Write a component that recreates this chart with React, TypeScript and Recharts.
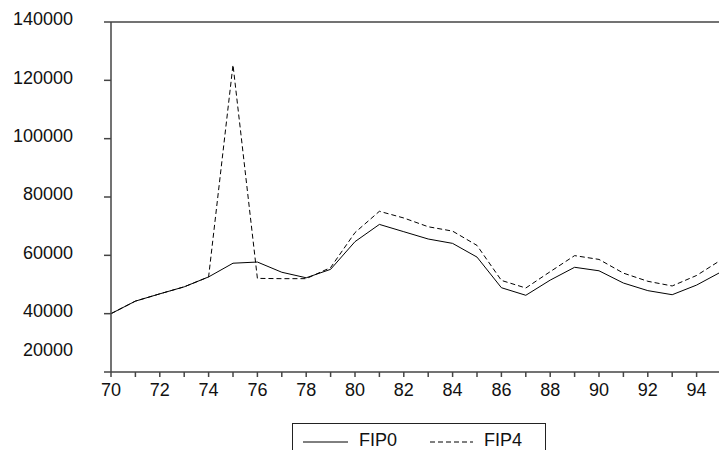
import { LineChart, Line, XAxis, YAxis, ReferenceLine, Legend } from 'recharts';

const years = [70, 71, 72, 73, 74, 75, 76, 77, 78, 79, 80, 81, 82, 83, 84, 85, 86, 87, 88, 89, 90, 91, 92, 93, 94, 95];
const fip0 = [40000, 44300, 46800, 49200, 52600, 57300, 57700, 54200, 52300, 55200, 64700, 70600, 68100, 65600, 64100, 59400, 48900, 46300, 51500, 55900, 54700, 50500, 47900, 46500, 49800, 54300];
const fip4 = [40000, 44300, 46800, 49200, 52600, 125300, 52100, 52000, 52000, 55800, 67800, 75100, 72800, 69800, 68300, 63400, 51400, 48800, 54400, 59900, 58600, 53900, 51100, 49500, 53100, 58400];
const yTicks = [20000, 40000, 60000, 80000, 100000, 120000, 140000];

const data = years.map((y, i) => ({ year: y, FIP0: fip0[i], FIP4: fip4[i] }));

const font = '"Liberation Sans", Arial, sans-serif';
const axisColor = '#444';

function YTick(props: any) {
  const { x, y, payload } = props;
  const shift = payload.value === 20000 ? -22 : -3;
  return (
    <text x={x} y={y + shift} dy="0.355em" textAnchor="end" fontFamily={font} fontSize={18} fill="#111">
      {payload.value}
    </text>
  );
}

function LegendBox() {
  return (
    <div style={{ width: 252, height: 32, border: '1px solid #222', position: 'relative', fontFamily: font, fontSize: 18, color: '#111' }}>
      <svg width={252} height={32} style={{ position: 'absolute', left: 0, top: 0 }}>
        <line x1={10} x2={55} y1={18} y2={18} stroke="#000" strokeWidth={1} />
        <line x1={137} x2={180} y1={18} y2={18} stroke="#000" strokeWidth={1} strokeDasharray="5 3" />
      </svg>
      <span style={{ position: 'absolute', left: 66, top: 6 }}>FIP0</span>
      <span style={{ position: 'absolute', left: 191, top: 6 }}>FIP4</span>
    </div>
  );
}

export default function App() {
  return (
    <div style={{ position: 'absolute', left: 0, top: 0, width: 719, height: 450, overflow: 'hidden', background: '#fff' }}>
      <LineChart width={725} height={450} data={data} margin={{ top: 22, right: 4, left: 0, bottom: 0 }}>
        <XAxis
          dataKey="year"
          type="number"
          domain={[70, 95]}
          ticks={years}
          interval={0}
          tickFormatter={(v: number) => (v % 2 === 0 && v < 95 ? String(v) : '')}
          height={78}
          tickSize={5}
          tickMargin={6}
          stroke={axisColor}
          strokeWidth={1.5}
          tick={{ fill: '#111', fontSize: 18, fontFamily: font }}
        />
        <YAxis
          type="number"
          domain={[20000, 140000]}
          ticks={yTicks}
          interval={0}
          width={111}
          tickSize={7}
          tickMargin={31}
          stroke={axisColor}
          strokeWidth={1.5}
          tick={<YTick />}
        />
        <ReferenceLine y={140000} stroke={axisColor} strokeWidth={1.5} />
        <Line type="linear" dataKey="FIP0" stroke="#000" strokeWidth={1} dot={false} isAnimationActive={false} />
        <Line type="linear" dataKey="FIP4" stroke="#000" strokeWidth={1} strokeDasharray="5 3" dot={false} isAnimationActive={false} />
        <Legend
          layout="horizontal"
          verticalAlign="middle"
          align="center"
          content={() => <LegendBox />}
          wrapperStyle={{ left: 292, top: 423, width: 254 }}
        />
      </LineChart>
    </div>
  );
}
